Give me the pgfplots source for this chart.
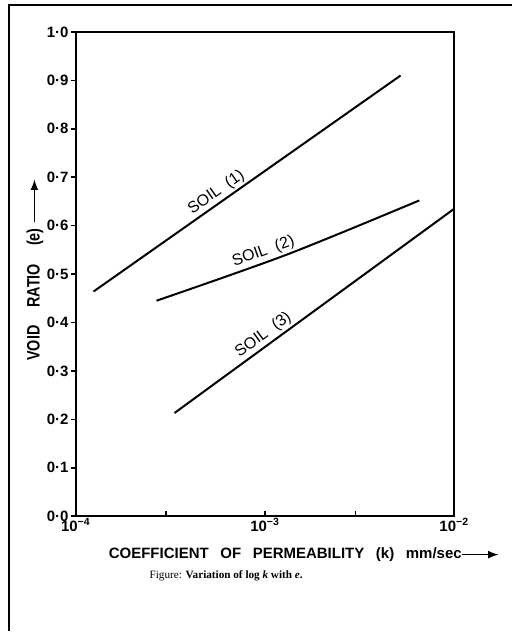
\documentclass[border=0pt]{standalone}
\usepackage{fontspec}
\setmainfont{Liberation Sans}
\newfontfamily\letterfont[FakeStretch=0.8]{Liberation Sans}
\newfontfamily\capfont{Liberation Serif}
\usepackage{pgfplots}
\pgfplotsset{compat=1.18}
\newcommand{\arr}[1]{\tikz[baseline=-0.55ex]\draw[-latex,line width=0.8pt](0,0)--(#1,0);}

\begin{document}
\begin{tikzpicture}
% page frame of the scanned figure
\path (-38pt,-57.5pt) rectangle (218.5pt,258.5pt);
\draw[line width=1pt] (-33.5pt,-57.5pt) -- (-33.5pt,256pt) -- (218.5pt,256pt);
\begin{axis}[
  at={(0pt,0pt)}, anchor=south west,
  scale only axis, width=189.5pt, height=242.5pt,
  xmode=log, xmin=1e-4, xmax=1e-2, ymin=0, ymax=1,
  axis line style={line width=1pt},
  tick pos=left, tick align=inside,
  major tick length=2.5pt,
  tick style={line width=0.8pt,black},
  y tick style={xshift=-2.5pt},
  xtick={1e-4,3e-4,1e-3,3e-3,1e-2},
  xticklabels={10\textsuperscript{−4},,10\textsuperscript{−3},,10\textsuperscript{−2}},
  ytick={0,0.1,0.2,0.3,0.4,0.5,0.6,0.7,0.8,0.9,1},
  yticklabels={0·0,0·1,0·2,0·3,0·4,0·5,0·6,0·7,0·8,0·9,1·0},
  tick label style={font=\bfseries\fontsize{7.5}{8}\selectfont},
  y tick label style={xshift=-2.5pt, inner sep=1pt},
  x tick label style={inner sep=1pt},
  xlabel={COEFFICIENT\enspace\ OF\enspace\ PERMEABILITY\enspace\ (k)\enspace\ mm/sec\arr{18pt}},
  xlabel style={font=\bfseries\fontsize{7.5}{8}\selectfont, at={(axis description cs:0.603,0)}, anchor=center, yshift=-19.5pt},
  ylabel={VOID\quad RATIO\quad (e)\hspace{3pt}\arr{21pt}},
  ylabel style={font=\letterfont\bfseries\fontsize{9}{10}\selectfont, at={(axis description cs:-0.108,0.509)}, anchor=center},
  clip=false,
]
\addplot[black, line width=1pt] coordinates {(1.24e-4,0.464) (5.2e-3,0.91)}
  node[pos=0.42, sloped, above, inner sep=1pt, font=\fontsize{8}{9}\selectfont] {SOIL\ \ (1)};
\addplot[black, line width=1pt, smooth] coordinates {(2.67e-4,0.445) (1.32e-3,0.541) (6.53e-3,0.652)}
  node[pos=0.42, sloped, above, inner sep=1pt, font=\fontsize{8}{9}\selectfont] {SOIL\ \ (2)};
\addplot[black, line width=1pt] coordinates {(3.32e-4,0.213) (1e-2,0.635)}
  node[pos=0.34, sloped, above, inner sep=1pt, font=\fontsize{8}{9}\selectfont] {SOIL\ \ (3)};
\end{axis}
\node[font=\capfont\fontsize{5.6}{6}\selectfont] at (75.25pt,-30pt)
  {Figure: \textbf{Variation of log \textit{k} with \textit{e}.}};
\end{tikzpicture}
\end{document}
